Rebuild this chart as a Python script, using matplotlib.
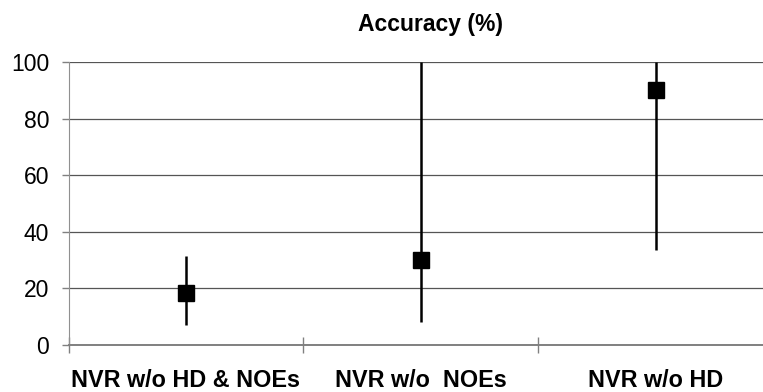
import numpy as np
import matplotlib.pyplot as plt

# data
categories = ['NVR w/o HD & NOEs', 'NVR w/o  NOEs', 'NVR w/o HD']
accuracy = [18.5, 30, 90]
err_low = [7, 8, 33.5]
err_high = [31.3, 100, 100]
yticks = [0, 20, 40, 60, 80, 100]

plt.rcParams['font.family'] = ['Liberation Sans', 'DejaVu Sans']

fig = plt.figure(figsize=(7.63, 3.92), dpi=100)
ax = fig.add_axes([68.5 / 763, 47 / 392, (773 - 68.5) / 763, (345 - 62) / 392])

x = np.arange(1, len(categories) + 1)
acc = np.array(accuracy)
yerr = [acc - np.array(err_low), np.array(err_high) - acc]
ax.errorbar(x, acc, yerr=yerr, fmt='s', color='black', ms=11.5,
            elinewidth=1.8, capsize=0, zorder=3)

ax.set_xlim(0.5, len(categories) + 0.5)
ax.set_ylim(0, 100)
ax.set_yticks(yticks)
ax.yaxis.grid(True, color='#555555', linewidth=0.9)
ax.set_axisbelow(True)

# category labels centred, tick marks at boundaries
ax.set_xticks(x)
ax.set_xticklabels(categories, fontsize=16.8, fontweight='bold')
ax.set_xticks(np.arange(0.5, len(categories) + 1, 1.0), minor=True)
ax.tick_params(axis='x', which='major', length=0, pad=17.5)
ax.tick_params(axis='x', which='minor', direction='inout', length=11,
               color='#808080', width=1)
ax.tick_params(axis='y', labelsize=16.5, length=5, color='#808080', width=1, pad=9)

for s in ['top', 'right']:
    ax.spines[s].set_visible(False)
ax.spines['left'].set_color('#909090')
ax.spines['bottom'].set_color('#808080')
ax.spines['bottom'].set_linewidth(1.4)

fig.text(430 / 763, 1 - 25 / 392, 'Accuracy (%)', ha='center', va='center',
         fontsize=16.5, fontweight='bold')

fig.savefig('out.png', dpi=100)
